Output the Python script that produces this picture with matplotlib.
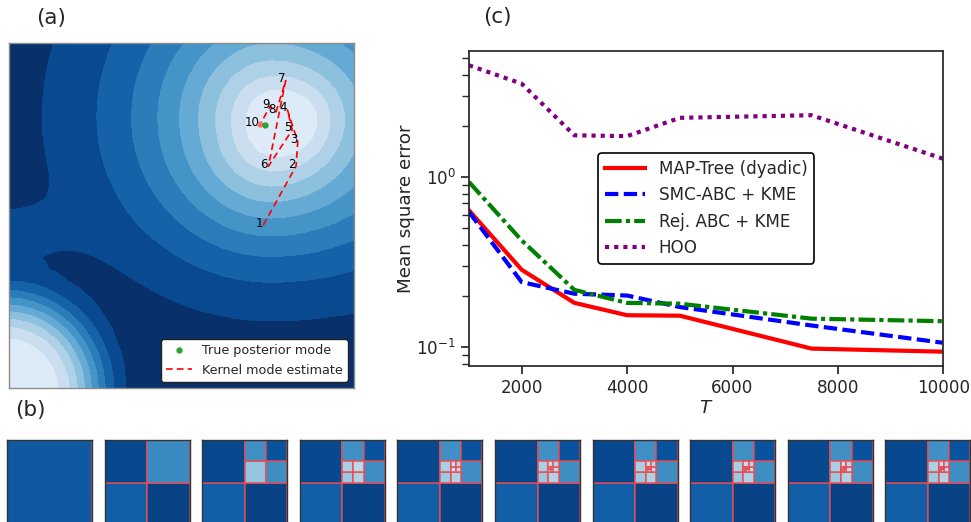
import numpy as np
import matplotlib
matplotlib.use("Agg")
import matplotlib.pyplot as plt
from matplotlib.patches import Rectangle

INK = "#262626"
plt.rcParams.update({
    "font.family": "DejaVu Sans",
    "text.color": INK,
    "axes.labelcolor": INK,
    "xtick.color": INK,
    "ytick.color": INK,
    "axes.edgecolor": INK,
})

# ---- (c) mean square error against budget T
T_VALUES = [1000, 2000, 3000, 4000, 5000, 7500, 10000]
MSE_MAP_TREE = [0.637, 0.285, 0.182, 0.154, 0.153, 0.098, 0.094]
MSE_SMC_ABC = [0.623, 0.241, 0.206, 0.201, 0.172, 0.134, 0.106]
MSE_REJ_ABC = [0.935, 0.424, 0.217, 0.182, 0.180, 0.147, 0.142]
MSE_HOO = [4.54, 3.54, 1.76, 1.74, 2.23, 2.31, 1.28]

# ---- (a) successive kernel mode estimates (unit-square coordinates)
MODE_U = [0.737, 0.832, 0.837, 0.807, 0.821, 0.752, 0.802, 0.774, 0.757, 0.728]
MODE_V = [0.472, 0.643, 0.714, 0.806, 0.748, 0.643, 0.891, 0.800, 0.817, 0.764]
TRUE_MODE = (0.742, 0.762)

# posterior surface: main blob with a shoulder, corner blob, weak ridge on the left
MAIN_CENTER = (0.757, 0.783)
MAIN_SCALE = dict(left=0.348, right=0.44, up=0.36, down=0.36)
SHOULDER_CENTER, SHOULDER_SIGMA, SHOULDER_AMP = (0.843, 0.771), 0.075, 0.12
CORNER_CENTER = (-0.012, -0.012)
CORNER_SCALE, CORNER_POWER = 0.275, 3.8
RIDGE_CENTER, RIDGE_SIGMA, RIDGE_AMP = (-0.084, 0.443), (0.174, 0.072), 0.10

# ---- (b) dyadic tree refinements: digit 0=BL 1=BR 2=TL 3=TR
SPLITS = ["", "3", "30", "303", "3030", "30303", "30300", "303030", "303033"]
CELL_ADDR = ["", "0", "1", "2", "3",
             "30", "31", "32", "33",
             "300", "301", "302", "303",
             "3030", "3031", "3032", "3033",
             "30300", "30301", "30302", "30303"]
CELL_LEVEL = [0.16, 0.18, 0.07, 0.09, 0.35,
              0.60, 0.36, 0.37, 0.13,
              0.62, 0.68, 0.66, 0.72,
              0.80, 0.74, 0.76, 0.70,
              0.78, 0.82, 0.82, 0.85]


def gauss(u, v, c, sx, sy):
    return np.exp(-0.5 * ((u - c[0]) / sx) ** 2 - 0.5 * ((v - c[1]) / sy) ** 2)


def surface(u, v):
    du, dv = u - MAIN_CENTER[0], v - MAIN_CENTER[1]
    su = np.where(du < 0, MAIN_SCALE["left"], MAIN_SCALE["right"])
    sv = np.where(dv > 0, MAIN_SCALE["up"], MAIN_SCALE["down"])
    r = np.hypot(du, dv) + 1e-9
    w = np.clip(-dv, 0, None) / r
    q = 1.3 + 0.4 * w ** 2
    d = np.sqrt((du / su) ** 2 + (dv / sv) ** 2)
    main = np.exp(-d ** q)
    shoulder = SHOULDER_AMP * gauss(u, v, SHOULDER_CENTER, SHOULDER_SIGMA, SHOULDER_SIGMA)
    dc = np.hypot(u - CORNER_CENTER[0], v - CORNER_CENTER[1]) / CORNER_SCALE
    corner = np.exp(-dc ** CORNER_POWER)
    ridge = RIDGE_AMP * gauss(u, v, RIDGE_CENTER, *RIDGE_SIGMA)
    return np.clip(main + shoulder + corner + ridge, 0, 0.999)


def cell_rect(addr):
    x0, y0, s = 0.0, 0.0, 1.0
    for ch in addr:
        k = int(ch)
        s /= 2
        x0 += s * (k % 2)
        y0 += s * (k // 2)
    return x0, y0, s


def cell_level(addr):
    lookup = dict(zip(CELL_ADDR, CELL_LEVEL))
    while addr not in lookup:
        addr = addr[:-1]
    return lookup[addr]


fig = plt.figure(figsize=(9.71, 5.22), dpi=100)
W, H = 971.0, 522.0


def px_axes(x0, y0, w, h):
    return fig.add_axes([x0 / W, 1 - (y0 + h) / H, w / W, h / H])


# ---------------- (a)
axa = px_axes(9, 43, 345, 345)
g = np.linspace(0, 1, 30)
U, V = np.meshgrid(g, g)
Z = surface(U, V)
band_colors = plt.cm.Blues_r(np.linspace(0.0, 0.87, 10))
axa.contourf(U, V, Z, levels=np.linspace(0, 1, 11), colors=band_colors)
axa.plot(MODE_U, MODE_V, "--", color="red", lw=1.2, dashes=(4, 2.5),
         label="Kernel mode estimate", zorder=3)
axa.plot(MODE_U[-1], MODE_V[-1], "o", color="#ff6b6b", ms=3.5, zorder=4)
axa.plot(*TRUE_MODE, "o", color="#2ca02c", ms=3.5, ls="none",
         label="True posterior mode", zorder=5)
for i, (u, v) in enumerate(zip(MODE_U, MODE_V)):
    axa.annotate(str(i + 1), (u, v), xytext=(-0.3, 1.5), textcoords="offset points",
                 ha="right", va="center", fontsize=8.5, color="black")
axa.set_xlim(0, 1)
axa.set_ylim(0, 1)
axa.set_xticks([])
axa.set_yticks([])
for sp in axa.spines.values():
    sp.set_color("#8c8c8c")
    sp.set_linewidth(1.0)
h, l = axa.get_legend_handles_labels()
lga = axa.legend(h[::-1], l[::-1], loc="lower right", fontsize=9.2, framealpha=1,
                 edgecolor="#222222", handlelength=2.0, borderaxespad=0.5)
lga.get_frame().set_linewidth(1.0)

# ---------------- (c)
axc = px_axes(469, 51, 474.3, 315)
axc.plot(T_VALUES, MSE_MAP_TREE, color="red", lw=3, label="MAP-Tree (dyadic)")
axc.plot(T_VALUES, MSE_SMC_ABC, color="blue", lw=3, ls="--", dashes=(3.2, 1.3),
         label="SMC-ABC + KME")
axc.plot(T_VALUES, MSE_REJ_ABC, color="green", lw=3, ls="-.", dashes=(4, 1, 1, 1),
         label="Rej. ABC + KME")
axc.plot(T_VALUES, MSE_HOO, color="purple", lw=3, ls=":", dashes=(1, 1.2),
         label="HOO")
axc.set_yscale("log")
axc.set_xlim(1000, 10000)
axc.set_xticks([2000, 4000, 6000, 8000, 10000])
axc.set_xlabel("$T$", fontsize=13.2, labelpad=1)
axc.set_ylabel("Mean square error", fontsize=13.2, labelpad=1)
axc.tick_params(axis="both", which="major", labelsize=12.1, direction="out",
                length=6, width=1.25)
axc.tick_params(axis="y", which="minor", direction="out", length=4.8, width=1.0)
for sp in axc.spines.values():
    sp.set_linewidth(1.25)
lgc = axc.legend(loc="center", fontsize=12.1, framealpha=1, edgecolor="black",
                 handlelength=2.4)
lgc.get_frame().set_linewidth(1.2)

# ---------------- (b)
leaves = [""]
trees = [list(leaves)]
for addr in SPLITS:
    leaves.remove(addr)
    leaves += [addr + d for d in "0123"]
    trees.append(list(leaves))
trees = trees[:10]

for k, tree in enumerate(trees):
    axb = px_axes(7 + 97.6 * k, 440, 85, 85)
    for addr in tree:
        x0, y0, s = cell_rect(addr)
        axb.add_patch(Rectangle((x0, y0), s, s,
                                facecolor=plt.cm.Blues_r(cell_level(addr)),
                                edgecolor=(0.9, 0.3, 0.32, 0.85), lw=1.2))
    axb.set_xlim(0, 1)
    axb.set_ylim(0, 1)
    axb.set_xticks([])
    axb.set_yticks([])
    for sp in axb.spines.values():
        sp.set_color("#333333")
        sp.set_linewidth(1.0)
        sp.set_zorder(5)

fig.text(51 / W, 1 - 18 / H, "(a)", fontsize=15.5, ha="center", va="center")
fig.text(30 / W, 1 - 410 / H, "(b)", fontsize=15.5, ha="center", va="center")
fig.text(497 / W, 1 - 17 / H, "(c)", fontsize=15.5, ha="center", va="center")

fig.savefig("out.png", dpi=100)
